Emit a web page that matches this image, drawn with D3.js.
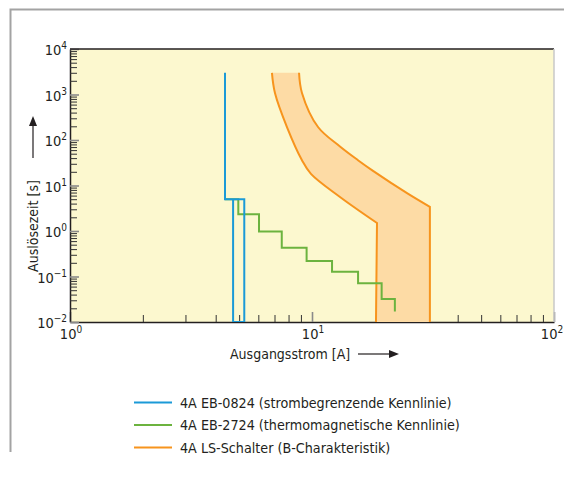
<!DOCTYPE html>
<html>
<head>
<meta charset="utf-8">
<script src="https://cdn.jsdelivr.net/npm/d3@7"></script>
<style>
  body { margin: 0; background: #fff; }
  svg text { font-family: "Liberation Sans Narrow", "DejaVu Sans Condensed", "Roboto Condensed", sans-serif; fill: #231f20; }
</style>
</head>
<body>
<svg id="chart" width="564" height="481"></svg>
<script>
(() => {

    // tick labels (decade exponents)
    const x_exponents = [0, 1, 2];
    const y_exponents = [-2, -1, 0, 1, 2, 3, 4];

    // 4A EB-0824 (current limiting) : [current A, time s]
    const eb0824 = [[4.37, 3000], [4.37, 5], [5.25, 5], [5.25, 0.01], [4.72, 0.01], [4.72, 5]];

    // 4A EB-2724 (thermomagnetic) step curve
    const eb2724 = [[4.37, 5], [4.96, 5], [4.96, 2.33], [6.04, 2.33], [6.04, 0.97], [7.5, 0.97],
        [7.5, 0.43], [9.5, 0.43], [9.5, 0.22], [12.1, 0.22], [12.1, 0.127], [15.5, 0.127],
        [15.5, 0.071], [19.4, 0.071], [19.4, 0.032], [22.0, 0.032], [22.0, 0.017]];

    // 4A LS-Schalter (B) band : curved part + vertical tail
    const ls_left_curve = [[6.83, 3000], [7.03, 1080], [7.88, 193], [9.09, 36], [9.9, 18], [13.05, 5.6], [18.56, 1.5]];
    const ls_left_tail = [[18.56, 1.5], [18.38, 0.01]];
    const ls_right_curve = [[8.84, 3000], [9.09, 1080], [10.59, 193], [13.05, 72], [15.49, 36], [17.87, 21], [24.7, 6.8], [30.7, 3.4]];
    const ls_right_tail = [[30.7, 3.4], [30.7, 0.01]];

    const legend_labels = [
        '4A EB-0824 (strombegrenzende Kennlinie)',
        '4A EB-2724 (thermomagnetische Kennlinie)',
        '4A LS-Schalter (B-Charakteristik)'
    ];
    const colors = ['#1b9ad7', '#6cb33f', '#f7941d'];

    // chart parameters
    const plot_left = 70, plot_right = 554, plot_top = 49, plot_bottom = 322;

    let svg = d3.select('#chart');

    // outer frame
    svg.append('path')
        .attr('d', 'M564,9.5H10.5V452')
        .attr('fill', 'none')
        .attr('stroke', '#a3a3a3')
        .attr('stroke-width', 2);

    let x_scale = d3.scaleLog().domain([1, 100]).range([plot_left, plot_right]);
    let y_scale = d3.scaleLog().domain([0.01, 10000]).range([plot_bottom, plot_top]);

    // plot background
    svg.append('rect')
        .attr('x', plot_left).attr('y', plot_top)
        .attr('width', plot_right - plot_left).attr('height', plot_bottom - plot_top)
        .attr('fill', '#fcf8cf');

    const is_major = (d) => Math.abs(Math.log10(d) - Math.round(Math.log10(d))) < 1e-6;

    // x axis (ticks pointing up)
    let x_axis = svg.append('g')
        .attr('transform', `translate(0, ${plot_bottom})`)
        .call(d3.axisBottom(x_scale).tickValues(x_scale.ticks()).tickSizeInner(-7).tickSizeOuter(0).tickFormat(''));
    x_axis.selectAll('.tick line')
        .attr('y2', (d) => is_major(d) ? -10 : -7)
        .attr('stroke', (d) => is_major(d) ? '#8a8a8a' : '#333')
        .attr('stroke-width', (d) => is_major(d) ? 1.6 : 1);

    // y axis (ticks pointing right)
    let y_axis = svg.append('g')
        .attr('transform', `translate(${plot_left}, 0)`)
        .call(d3.axisLeft(y_scale).tickValues(y_scale.ticks()).tickSizeInner(-7).tickSizeOuter(0).tickFormat(''));
    y_axis.selectAll('.tick line')
        .attr('x2', (d) => is_major(d) ? 9 : 7)
        .attr('stroke', (d) => is_major(d) ? '#8a8a8a' : '#333')
        .attr('stroke-width', (d) => is_major(d) ? 1.6 : 1);

    svg.selectAll('.domain').attr('stroke', '#231f20').attr('stroke-width', 1.5);

    // top and right border
    svg.append('line')
        .attr('x1', plot_left).attr('x2', plot_right)
        .attr('y1', plot_top).attr('y2', plot_top)
        .attr('stroke', '#231f20').attr('stroke-width', 1.5);
    svg.append('line')
        .attr('x1', plot_right).attr('x2', plot_right)
        .attr('y1', plot_top).attr('y2', plot_bottom)
        .attr('stroke', '#c8c8c8').attr('stroke-width', 1.5);

    // tick labels with superscripts
    const sup = (e) => (e < 0 ? '\u2212' + Math.abs(e) : String(e));

    let x_labels = svg.selectAll('.xlab')
        .data(x_exponents)
        .enter()
        .append('text')
        .attr('x', (d, i) => x_scale(Math.pow(10, d)) + (i == x_exponents.length - 1 ? -2 : 1))
        .attr('y', plot_bottom + 17)
        .style('text-anchor', 'middle')
        .style('font-size', '14.5px');
    x_labels.append('tspan').text('10');
    x_labels.append('tspan').attr('dy', -6).style('font-size', '10px').text((d) => sup(d));

    let y_labels = svg.selectAll('.ylab')
        .data(y_exponents)
        .enter()
        .append('text')
        .attr('x', plot_left - 3)
        .attr('y', (d) => y_scale(Math.pow(10, d)) + 6)
        .style('text-anchor', 'end')
        .style('font-size', '14.5px');
    y_labels.append('tspan').text('10');
    y_labels.append('tspan').attr('dy', -6).style('font-size', '10px').text((d) => sup(d));

    // axis titles with arrows
    svg.append('text')
        .attr('transform', 'translate(38, 226) rotate(-90)')
        .style('text-anchor', 'middle')
        .style('font-size', '14px')
        .text('Auslösezeit [s]');
    svg.append('line')
        .attr('x1', 33).attr('x2', 33).attr('y1', 158).attr('y2', 125)
        .attr('stroke', '#231f20').attr('stroke-width', 1.2);
    svg.append('path')
        .attr('d', 'M33,116L29,126L37,126Z')
        .attr('fill', '#231f20');

    svg.append('text')
        .attr('x', 230)
        .attr('y', 359)
        .style('font-size', '14px')
        .text('Ausgangsstrom [A]');
    svg.append('line')
        .attr('x1', 358).attr('x2', 390).attr('y1', 354).attr('y2', 354)
        .attr('stroke', '#231f20').attr('stroke-width', 1.2);
    svg.append('path')
        .attr('d', 'M399,354L389,350L389,358Z')
        .attr('fill', '#231f20');

    // orange band
    svg.append('clipPath').attr('id', 'plotclip')
        .append('rect')
        .attr('x', plot_left).attr('y', plot_top)
        .attr('width', plot_right - plot_left).attr('height', plot_bottom - plot_top);

    let line_curve = d3.line()
        .x((d) => x_scale(d[0]))
        .y((d) => y_scale(d[1]))
        .curve(d3.curveCatmullRom.alpha(0.5));
    let line_lin = d3.line()
        .x((d) => x_scale(d[0]))
        .y((d) => y_scale(d[1]));

    let left_d = line_curve(ls_left_curve) + line_lin(ls_left_tail).replace(/^M/, 'L');
    let right_d = line_curve(ls_right_curve) + line_lin(ls_right_tail).replace(/^M/, 'L');
    let band_d = left_d
        + line_lin(ls_right_tail.slice().reverse()).replace(/^M/, 'L')
        + line_curve(ls_right_curve.slice().reverse()).replace(/^M/, 'L') + 'Z';

    let plot_g = svg.append('g').attr('clip-path', 'url(#plotclip)');

    plot_g.append('path')
        .attr('d', band_d)
        .attr('fill', '#fddba5')
        .attr('stroke', 'none');
    plot_g.append('path')
        .attr('d', left_d)
        .attr('fill', 'none')
        .attr('stroke', colors[2])
        .attr('stroke-width', 2);
    plot_g.append('path')
        .attr('d', right_d)
        .attr('fill', 'none')
        .attr('stroke', colors[2])
        .attr('stroke-width', 2);

    // green step curve
    plot_g.append('path')
        .datum(eb2724)
        .attr('d', line_lin)
        .attr('fill', 'none')
        .attr('stroke', colors[1])
        .attr('stroke-width', 2);

    // blue curve
    plot_g.append('path')
        .datum(eb0824)
        .attr('d', line_lin)
        .attr('fill', 'none')
        .attr('stroke', colors[0])
        .attr('stroke-width', 2);

    // legend
    svg.selectAll('.leg-line')
        .data(legend_labels)
        .enter()
        .append('line')
        .attr('x1', 134).attr('x2', 172)
        .attr('y1', (d, i) => 402.5 + i * 22.5)
        .attr('y2', (d, i) => 402.5 + i * 22.5)
        .attr('stroke', (d, i) => colors[i])
        .attr('stroke-width', 2);

    svg.selectAll('.leg-text')
        .data(legend_labels)
        .enter()
        .append('text')
        .attr('x', 180)
        .attr('y', (d, i) => 407.5 + i * 22.5)
        .style('font-size', '14.2px')
        .text((d) => d);

})();
</script>
</body>
</html>
